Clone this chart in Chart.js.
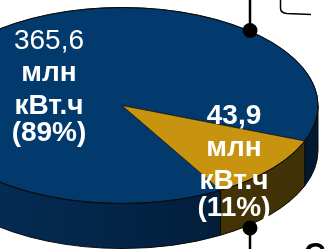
<!DOCTYPE html>
<html>
<head>
<meta charset="utf-8">
<script src="https://cdn.jsdelivr.net/npm/chart.js@4/dist/chart.umd.min.js"></script>
<style>
html, body { margin: 0; padding: 0; background: #fff; overflow: hidden; }
#wrap { position: relative; width: 327px; height: 249px; overflow: hidden; }
#pie { position: absolute; }
</style>
</head>
<body>
<div id="wrap"><canvas id="pie" width="420" height="393"></canvas></div>
<script>
// data
var labels = ['Сегмент 1', 'Сегмент 2'];
var values = [365.6, 43.9];
var unitLines = ['млн', 'кВт.ч'];

// look
var topColors = ['#023a6e', '#c8940f'];
var sideLight = ['#05305c', '#4f3c09'];
var sideDark = ['#011830', '#3f3006'];
var TILT = 0.5, DEPTH = 45;
var OFF = { x: 88, y: 91 };              // canvas is larger than the window and shifted
var labelPos = [[-73, -19.5], [112, 55.5]];
var firstWeight = ['normal', 'bold'];
var lineBase = [-37, -5, 27.5, 55];
var FONT = '"Liberation Sans", Arial, sans-serif';

var cv = document.getElementById('pie');
cv.style.left = -OFF.x + 'px';
cv.style.top = -OFF.y + 'px';

function fmt(v) { return v.toFixed(1).replace('.', ','); }

var pie3d = {
  id: 'pie3d',
  beforeDatasetsDraw: function (chart) {
    var c = chart.ctx, arcs = chart.getDatasetMeta(0).data;
    var cx = arcs[0].x, cy = arcs[0].y, r = arcs[0].outerRadius;
    // side walls, only the front half is visible
    arcs.forEach(function (arc, i) {
      for (var k = -1; k <= 2; k++) {
        var p = Math.max(arc.startAngle, 2 * Math.PI * k);
        var q = Math.min(arc.endAngle, 2 * Math.PI * k + Math.PI);
        if (q <= p) continue;
        c.beginPath();
        c.ellipse(cx, cy, r, r * TILT, 0, p, q);
        c.ellipse(cx, cy + DEPTH, r, r * TILT, 0, q, p, true);
        c.closePath();
        var g = c.createLinearGradient(cx - r, 0, cx + r, 0);
        g.addColorStop(0, sideLight[i]);
        g.addColorStop(1, sideDark[i]);
        c.fillStyle = g;
        c.fill();
        c.lineWidth = 1;
        c.strokeStyle = '#0a0a0a';
        c.stroke();
      }
    });
    // squash the top face
    c.save();
    c.translate(cx, cy);
    c.scale(1, TILT);
    c.translate(-cx, -cy);
  },
  afterDatasetsDraw: function (chart) {
    var c = chart.ctx, arcs = chart.getDatasetMeta(0).data;
    c.restore();
    var cx = arcs[0].x, cy = arcs[0].y, r = arcs[0].outerRadius;
    c.beginPath();
    c.ellipse(cx, cy, r, r * TILT, 0, 0, 2 * Math.PI);
    c.lineWidth = 1;
    c.strokeStyle = '#0a0a0a';
    c.stroke();

    // labels
    var total = values.reduce(function (a, b) { return a + b; }, 0);
    c.fillStyle = '#fff';
    c.textAlign = 'center';
    c.textBaseline = 'alphabetic';
    values.forEach(function (v, i) {
      var lines = [fmt(v), unitLines[0], unitLines[1], '(' + Math.round(v / total * 100) + '%)'];
      var lx = cx + labelPos[i][0], ly = cy + labelPos[i][1];
      lines.forEach(function (t, j) {
        c.font = (j === 0 ? firstWeight[i] : 'bold') + ' 28px ' + FONT;
        c.fillText(t, lx, ly + lineBase[j]);
      });
    });

    // callout lines around the chart
    c.save();
    c.translate(OFF.x, OFF.y);
    c.strokeStyle = '#000';
    c.fillStyle = '#000';
    c.lineWidth = 2.5;
    c.beginPath();
    c.moveTo(250, 0); c.lineTo(250, 30);
    c.moveTo(250, 228); c.lineTo(250, 252);
    c.stroke();
    c.beginPath(); c.arc(250, 30.5, 7.5, 0, 2 * Math.PI); c.fill();
    c.beginPath(); c.arc(250, 228, 7.5, 0, 2 * Math.PI); c.fill();
    c.lineWidth = 1.5;
    c.beginPath();
    c.moveTo(280.5, 0);
    c.lineTo(280.5, 8);
    c.quadraticCurveTo(280.5, 13, 287, 13.5);
    c.lineTo(311, 14.5);
    c.stroke();
    c.font = 'bold 30px ' + FONT;
    c.textAlign = 'left';
    c.fillText('С', 304, 263);
    c.restore();
  }
};

var chart = new Chart(cv.getContext('2d'), {
  type: 'pie',
  data: {
    labels: labels,
    datasets: [{
      data: values,
      backgroundColor: topColors,
      borderColor: '#101010',
      borderWidth: 1,
      clip: false
    }]
  },
  options: {
    responsive: false,
    animation: false,
    rotation: 149.8,
    events: [],
    layout: { padding: 0 },
    plugins: {
      legend: { display: false },
      tooltip: { enabled: false }
    }
  },
  plugins: [pie3d]
});
</script>
</body>
</html>
